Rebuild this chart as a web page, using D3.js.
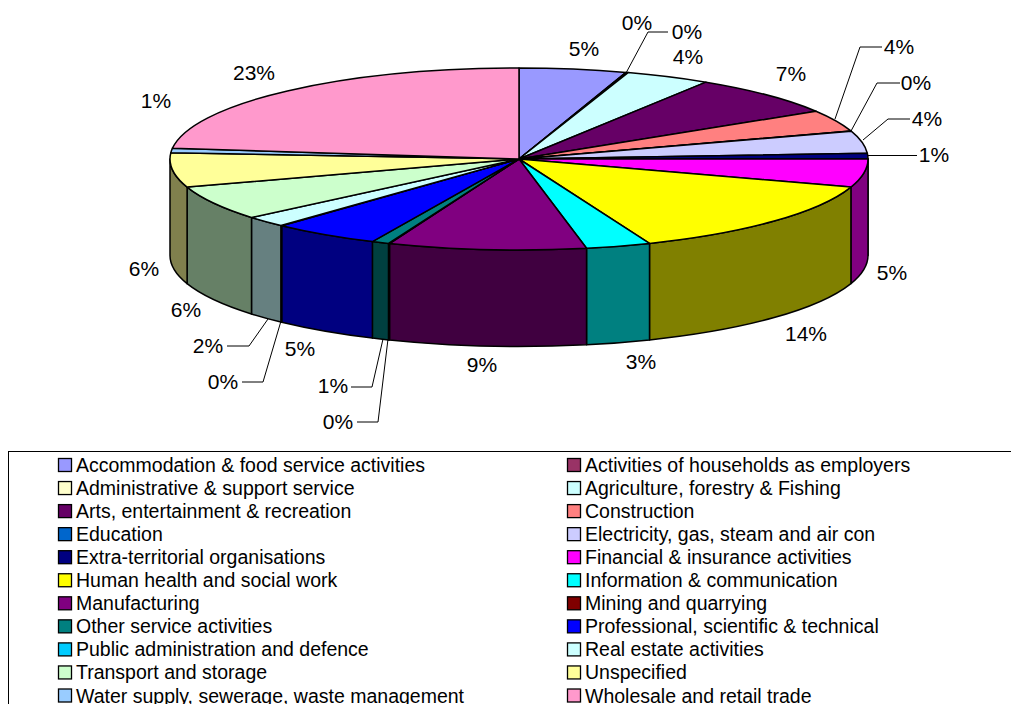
<!DOCTYPE html>
<html>
<head>
<meta charset="utf-8">
<script src="https://cdnjs.cloudflare.com/ajax/libs/d3/7.8.5/d3.min.js"></script>
<style>
html,body{margin:0;padding:0;background:#fff;overflow:hidden}
svg{display:block}
text{font-family:"Liberation Sans",Arial,sans-serif;fill:#000}
</style>
</head>
<body>
<svg id="chart" width="1011" height="704"></svg>
<script>
const categories = ["Accommodation & food service activities","Activities of households as employers","Administrative & support service","Agriculture, forestry & Fishing","Arts, entertainment & recreation","Construction","Education","Electricity, gas, steam and air con","Extra-territorial organisations","Financial & insurance activities","Human health and social work","Information & communication","Manufacturing","Mining and quarrying","Other service activities","Professional, scientific & technical","Public administration and defence","Real estate activities","Transport and storage","Unspecified","Water supply, sewerage, waste management","Wholesale and retail trade"];
const values = [4.96,0.05,0.05,3.94,7.2,3.8,0.05,3.95,1.0,5.0,13.9,3.0,9.15,0.05,0.8,5.0,0.05,1.95,6.1,6.1,0.8,23.1];
const colors = ["#9999FF","#993366","#FFFFCC","#CCFFFF","#660066","#FF8080","#0066CC","#CCCCFF","#000080","#FF00FF","#FFFF00","#00FFFF","#800080","#800000","#008080","#0000FF","#00CCFF","#CCFFFF","#CCFFCC","#FFFF99","#99CCFF","#FF99CC"];
// label layout: [label centre x, y, leader polyline or null], one per category
const labelLayout = [
 [584,48,null],[637,22,null],[687,31,[[626,73],[648,32],[668,32]]],[688,56,null],[791,73,null],
 [899,46,[[835,119],[860,47],[882,47]]],[916,82,[[851,131],[877,83],[900,83]]],[927,118,[[863,140],[888,119],[910,119]]],
 [934,154,[[868,155.5],[917,155.5]]],[892,272,null],[806,333,null],[641,361,null],[482,364,null],
 [338,421,[[388,339],[378,422],[357,422]]],[333,385,[[383,339],[372,387],[351,387]]],[300,348,null],
 [223,381,[[281,321],[263,382],[242,382]]],[208,345,[[268,319],[249,346],[227,346]]],[186,309,null],[144,268,null],[156,100,null],[254,72,null]
];

const cx=519, cy=159, rx=349, ry=91, depth=96.5;
const svg=d3.select("#chart");
const pt=(t,dy=0)=>[cx+rx*Math.sin(t), cy-ry*Math.cos(t)+dy];
const total=d3.sum(values);
const pie=d3.pie().sort(null).value(d=>d.v);
const arcs=pie(values.map((v,i)=>({v,i,name:categories[i],color:colors[i]})));

const halfPi=Math.PI/2, threeHalf=3*Math.PI/2;
const dark=c=>{const r=d3.rgb(c);return d3.rgb(r.r/2,r.g/2,r.b/2).formatHex();};

// walls
const walls=arcs.filter(a=>a.endAngle>halfPi && a.startAngle<threeHalf);
svg.append("g").selectAll("path").data(walls).join("path")
 .attr("d",a=>{
   const s=Math.max(a.startAngle,halfPi), e=Math.min(a.endAngle,threeHalf);
   const p0=pt(s),p1=pt(e),p2=pt(e,depth),p3=pt(s,depth);
   return `M${p0}A${rx},${ry} 0 0 1 ${p1}L${p2}A${rx},${ry} 0 0 0 ${p3}Z`;
 })
 .attr("fill",a=>dark(a.data.color)).attr("stroke","#000").attr("stroke-width",1.5).attr("stroke-linejoin","round");

// top face
svg.append("g").selectAll("path").data(arcs).join("path")
 .attr("d",a=>{
   const p0=pt(a.startAngle),p1=pt(a.endAngle);
   const large=(a.endAngle-a.startAngle)>Math.PI?1:0;
   return `M${cx},${cy}L${p0}A${rx},${ry} 0 ${large} 1 ${p1}Z`;
 })
 .attr("fill",a=>a.data.color).attr("stroke","#000").attr("stroke-width",1.5).attr("stroke-linejoin","round");

// leaders
const line=d3.line();
svg.append("g").selectAll("path").data(labelLayout.filter(l=>l[2])).join("path")
 .attr("d",l=>line(l[2])).attr("fill","none").attr("stroke","#000").attr("stroke-width",1);

// labels
const fmt=d3.format(".0%");
svg.append("g").selectAll("text").data(arcs).join("text")
 .attr("x",(a,i)=>labelLayout[i][0]).attr("y",(a,i)=>labelLayout[i][1])
 .attr("text-anchor","middle").attr("dominant-baseline","central")
 .style("font-size","21px").text(a=>fmt(a.data.v/total));

// legend
svg.append("rect").attr("x",8.5).attr("y",451.5).attr("width",1100).attr("height",300)
 .attr("fill","none").attr("stroke","#000").attr("stroke-width",1);
const rowCount=Math.ceil(categories.length/2);
const rowY=d3.scaleLinear().domain([0,rowCount-1]).range([465,695.5]);
const colX=d3.scaleOrdinal().domain([0,1]).range([58,567]);
const lg=svg.append("g").selectAll("g").data(categories).join("g")
 .attr("transform",(d,i)=>`translate(${colX(i%2)},${rowY(Math.floor(i/2))})`);
lg.append("rect").attr("x",.5).attr("y",-6.5).attr("width",13).attr("height",13)
 .attr("fill",(d,i)=>colors[i]).attr("stroke","#000").attr("stroke-width",1.3);
lg.append("text").attr("x",18).attr("y",0).attr("dominant-baseline","central")
 .style("font-size","19.5px").text(d=>d);
</script>
</body>
</html>
